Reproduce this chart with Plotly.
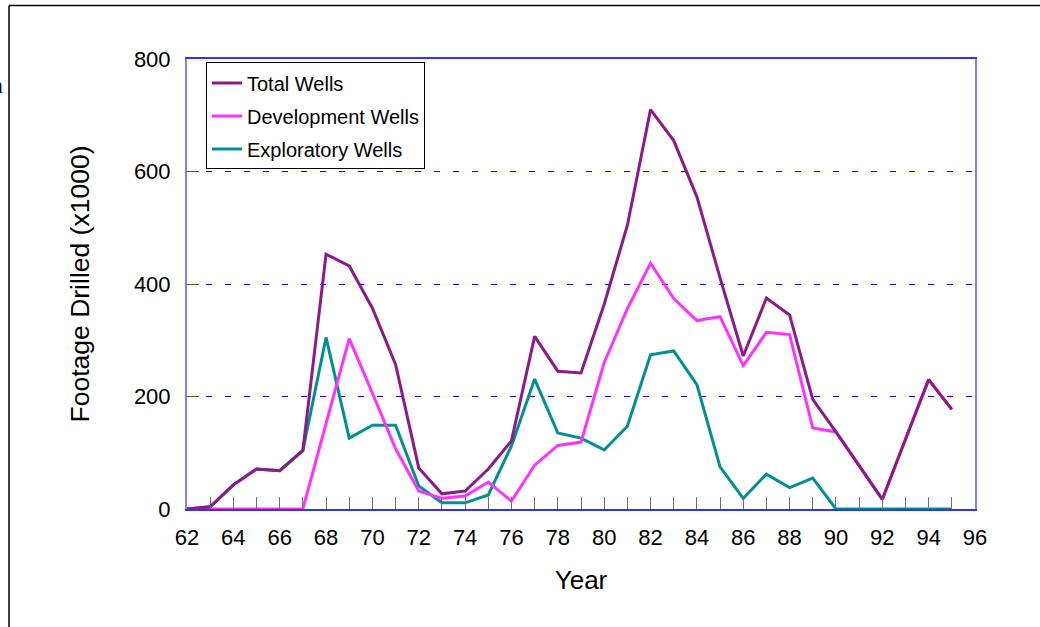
import plotly.graph_objects as go

years = list(range(62, 96))
total_wells = [0, 4, 43, 71, 68, 104, 453, 432, 357, 257, 73, 27, 32, 71, 121,
               307, 245, 242, 364, 504, 710, 655, 555, 411, 272, 375, 345, 195,
               137, 76, 17, 124, 230, 177]
development_wells = [0, 0, 0, 0, 0, 0, 152, 303, 206, 107, 32, 19, 23, 48, 14,
                     78, 113, 119, 260, 356, 437, 374, 335, 342, 255, 314, 310,
                     144, 137, 76, 17, 124, 230, 177]
exploratory_wells = [0, 4, 43, 71, 68, 104, 305, 126, 149, 149, 41, 11, 11, 25,
                     112, 231, 135, 126, 105, 147, 274, 281, 221, 75, 19, 62, 38,
                     55, 0, 0, 0, 0, 0, 0]
x_ticks = list(range(62, 97, 2))
y_ticks = [0, 200, 400, 600, 800]

W, H = 1040, 627
L, R, T, B = 187, 975, 58.5, 509.5


def px(x):
    return (x - L) / (R - L)


def py(y):
    return (B - y) / (B - T)


FONT = "Liberation Sans, Arial, sans-serif"

fig = go.Figure()
series = [
    ("Exploratory Wells", exploratory_wells, "#009090", 3),
    ("Development Wells", development_wells, "#ff33ff", 2),
    ("Total Wells", total_wells, "#8b1a8b", 1),
]
for name, vals, col, rank in series:
    fig.add_trace(go.Scatter(
        x=years, y=vals, name=name, mode="lines",
        line=dict(color=col, width=3), legendgroup=name, legendrank=rank,
    ))

fig.update_layout(
    width=W, height=H,
    margin=dict(l=L, r=W - R, t=T, b=H - B),
    paper_bgcolor="white", plot_bgcolor="white",
    font=dict(family=FONT, color="black", size=22),
    showlegend=True,
    legend=dict(
        x=px(206), y=py(62), xanchor="left", yanchor="top",
        bgcolor="white", bordercolor="black", borderwidth=1,
        font=dict(size=20, family=FONT), traceorder="grouped",
        tracegroupgap=4, itemwidth=30,
    ),
    xaxis=dict(
        range=[62, 96], tickmode="array", tickvals=x_ticks,
        ticktext=[str(v) for v in x_ticks],
        ticks="inside", ticklen=12, tickcolor="#707070", tickwidth=1,
        minor=dict(dtick=1, ticks="inside", ticklen=12, tickcolor="#707070", tickwidth=1),
        showgrid=False, zeroline=False,
        showline=True, linecolor="#3333ee", linewidth=1.5, mirror=True,
        tickfont=dict(size=22, family=FONT),
        ticklabelstandoff=8,
        title=dict(text="Year", font=dict(size=26, family=FONT), standoff=22),
    ),
    yaxis=dict(
        range=[0, 800], tickmode="array", tickvals=y_ticks,
        ticks="inside", ticklen=12, tickcolor="#555555", tickwidth=1,
        showgrid=True, gridcolor="#0000ff", gridwidth=1, griddash="6px,13px",
        zeroline=False,
        showline=True, linecolor="#8080ff", linewidth=2, mirror=True,
        tickfont=dict(size=22, family=FONT),
        ticklabelstandoff=10,
        title=dict(text="Footage Drilled (x1000)", font=dict(size=26.5, family=FONT), standoff=37),
    ),
    shapes=[
        dict(type="line", xref="paper", yref="paper",
             x0=px(9), x1=px(1045), y0=py(5), y1=py(5),
             line=dict(color="black", width=1.5)),
        dict(type="line", xref="paper", yref="paper",
             x0=px(9), x1=px(9), y0=py(5), y1=py(640),
             line=dict(color="black", width=1.5)),
    ],
    annotations=[
        dict(text="n", xref="paper", yref="paper", x=px(5), y=py(85),
             xanchor="right", yanchor="middle", showarrow=False,
             font=dict(family="Liberation Serif, serif", size=24, color="black")),
    ],
)

fig.write_html("out.html", config={"displayModeBar": False},
               post_script="document.body.style.margin='0';")
